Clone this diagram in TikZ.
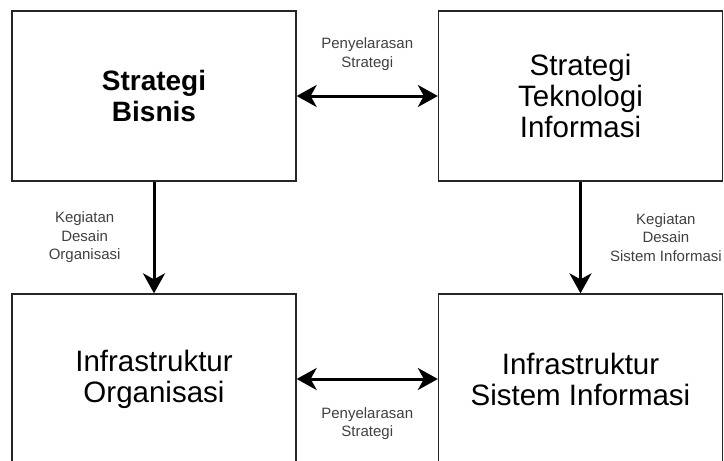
\documentclass[tikz,border=0pt]{standalone}
\usepackage{fontspec}
\setmainfont{Liberation Sans}
\usepackage{tikz}
\usetikzlibrary{arrows.meta}
\usetikzlibrary{positioning}

\tikzstyle{box}=[
   rectangle,
   draw=black!85,
   line width=1.3pt,
   minimum width=284pt,
   minimum height=170pt,
   align=center,
   font=\fontsize{29.5}{31}\selectfont
]
\tikzstyle{lbl}=[
   align=center,
   inner sep=2pt,
   text=black!75,
   font=\fontsize{15}{18.5}\selectfont
]

\begin{document}
\begin{tikzpicture}[->,>={Stealth[length=20pt,width=22pt,inset=6pt]},line width=3pt,node distance=283pt,x=1pt,y=-1pt]

  \useasboundingbox (0,0) rectangle (724,461);
  \clip (0,0) rectangle (724,461);

  \node[box,font=\fontsize{28}{31}\selectfont\bfseries] (sb) at (154,96) {Strategi\\Bisnis};
  \node[box]   (sti) [right of=sb, xshift=143.5pt]  {Strategi\\Teknologi\\Informasi};
  \node[box]   (io)  [below of=sb]  {Infrastruktur\\Organisasi};
  \node[box]   (isi) [below of=sti] {Infrastruktur\\Sistem Informasi};

  \path (sb) edge[<->]  node[lbl,above=22pt] {Penyelarasan\\Strategi} (sti)
        (io) edge[<->]  node[lbl,below=25pt] {Penyelarasan\\Strategi} (isi);

  \path (sb)  edge  node[lbl,left=30pt]    {Kegiatan\\Desain\\Organisasi} (io)
        (sti) edge  node[lbl,right=26pt] {Kegiatan\\Desain\\Sistem Informasi} (isi);

\end{tikzpicture}
\end{document}
